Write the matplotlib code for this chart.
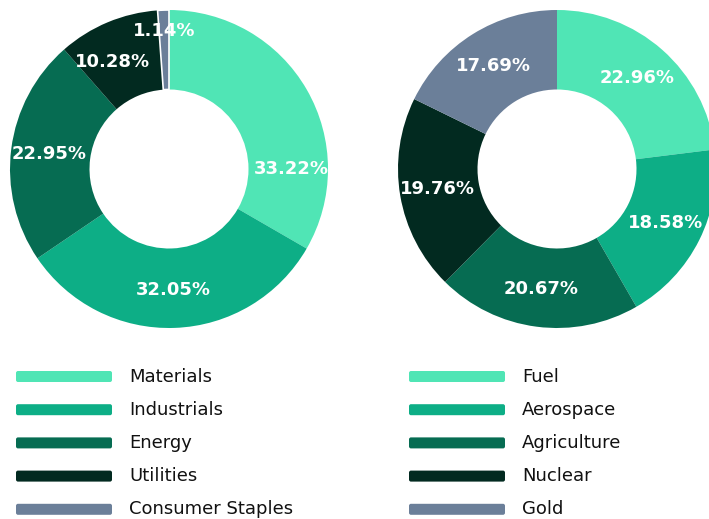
import matplotlib
matplotlib.use("Agg")
import numpy as np
import matplotlib.pyplot as plt
from matplotlib.patches import FancyBboxPatch

# Data for the two donuts
sectors = ["Materials", "Industrials", "Energy", "Utilities", "Consumer Staples"]
sector_share = [33.22, 32.05, 22.95, 10.28, 1.14]

industries = ["Fuel", "Aerospace", "Agriculture", "Nuclear", "Gold"]
industry_share = [22.96, 18.58, 20.67, 19.76, 17.69]

colors = ["#50E5B5", "#0DAE86", "#066C52", "#022A20", "#6B7F99"]

W, H = 709, 519
fig = plt.figure(figsize=(W / 100, H / 100), dpi=100)
plt.rcParams["font.family"] = ["DejaVu Sans"]


def donut(ax, values, nudge=None):
    # nudge: {index: (angle shift in degrees, radius)} for the value labels
    nudge = nudge or {}
    wedges, _ = ax.pie(
        values, colors=colors, startangle=90, counterclock=False,
        radius=1.0, wedgeprops=dict(width=0.5, linewidth=0),
    )
    for i, (w, v) in enumerate(zip(wedges, values)):
        if v < 5:
            w.set_edgecolor("white")
            w.set_linewidth(1.2)
        ang = (w.theta1 + w.theta2) / 2
        d_ang, r = nudge.get(i, (0, 0.76))
        a = np.deg2rad(ang + d_ang)
        ax.text(r * np.cos(a), r * np.sin(a), f"{v:.2f}%", color="white",
                fontsize=13, fontweight="bold", ha="center", va="center")
    ax.set_xlim(-1, 1)
    ax.set_ylim(-1, 1)
    ax.set_aspect("equal")
    ax.axis("off")


# pie boxes in pixels: left/top corner and size
size = 318
ax1 = fig.add_axes([10 / W, (H - 10 - size) / H, size / W, size / H])
donut(ax1, sector_share, nudge={0: (-30, 0.77), 3: (5, 0.76), 4: (0, 0.87)})
ax2 = fig.add_axes([398 / W, (H - 10 - size) / H, size / W, size / H])
donut(ax2, industry_share)

# legends drawn by hand in pixel space
lax = fig.add_axes([0, 0, 1, 1])
lax.set_xlim(0, W)
lax.set_ylim(H, 0)
lax.axis("off")


def legend(x0, names):
    for i, name in enumerate(names):
        y = 376.5 + i * 33.2
        lax.add_patch(FancyBboxPatch((x0, y - 5.5), 96, 11,
                                     boxstyle="round,pad=0,rounding_size=2",
                                     fc=colors[i], ec="none"))
        lax.text(x0 + 113, y, name, fontsize=13, color="#111111",
                 va="center", ha="left")


legend(16, sectors)
legend(409, industries)

fig.savefig("out.png", dpi=100)
